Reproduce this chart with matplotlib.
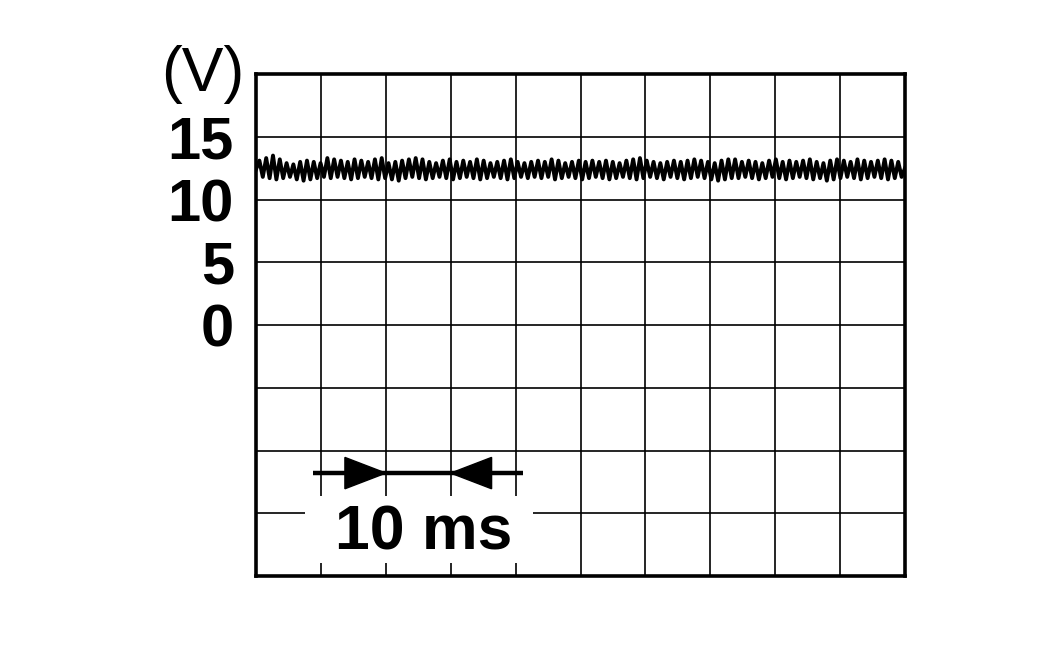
import numpy as np
import matplotlib
matplotlib.use("Agg")
import matplotlib.pyplot as plt
from matplotlib.patches import Rectangle

plt.rcParams['font.family'] = ['Liberation Sans', 'DejaVu Sans']

# ---- data ----
y_tick_values = [-20, -15, -10, -5, 0, 5, 10, 15, 20]
y_tick_labels = ['', '', '', '', '0', '5', '10', '15', '']
x_tick_values = [0, 10, 20, 30, 40, 50, 60, 70, 80, 90, 100]
unit_label = '(V)'
time_label = '10 ms'
time_marker_start = 20   # ms
time_marker_end = 30     # ms

# ripple peak / trough voltages (left to right)
peaks = [13.1, 13.3, 13.5, 13.2, 12.9, 12.8, 13.0, 13.1, 13.0, 12.9,
         13.3, 13.2, 13.1, 13.0, 13.2, 13.1, 13.0, 13.2, 13.3, 12.9,
         13.0, 13.1, 13.2, 13.3, 13.2, 13.0, 12.9, 13.1, 13.2, 13.0,
         13.1, 13.0, 13.2, 13.1, 12.9, 13.0, 13.1, 13.2, 13.0, 12.9,
         13.0, 13.1, 13.0, 13.2, 13.1, 12.9, 13.0, 13.1, 13.0, 13.1,
         13.0, 13.1, 13.0, 12.9, 13.1, 13.2, 13.3, 13.1, 13.0, 12.9,
         13.0, 13.1, 13.0, 13.1, 13.2, 13.1, 13.0, 12.9, 13.1, 13.2,
         13.2, 13.0, 13.1, 13.0, 12.9, 13.1, 13.2, 13.0, 13.1, 13.0,
         13.1, 13.2, 13.0, 12.9, 13.1, 13.2, 13.1, 13.0, 13.2, 13.1,
         13.0, 13.1, 13.2, 13.1, 13.0]
troughs = [11.8, 11.7, 11.6, 11.7, 11.8, 11.6, 11.5, 11.6, 11.7, 11.8,
           11.7, 11.8, 11.7, 11.6, 11.7, 11.8, 11.7, 11.6, 11.7, 11.6,
           11.5, 11.7, 11.8, 11.7, 11.6, 11.7, 11.8, 11.7, 11.6, 11.7,
           11.8, 11.7, 11.6, 11.7, 11.8, 11.7, 11.6, 11.7, 11.8, 11.7,
           11.8, 11.7, 11.8, 11.6, 11.7, 11.8, 11.7, 11.6, 11.7, 11.8,
           11.7, 11.6, 11.7, 11.8, 11.7, 11.6, 11.7, 11.8, 11.7, 11.6,
           11.8, 11.7, 11.6, 11.7, 11.8, 11.7, 11.6, 11.5, 11.6, 11.7,
           11.7, 11.8, 11.7, 11.6, 11.7, 11.8, 11.7, 11.6, 11.7, 11.8,
           11.7, 11.6, 11.7, 11.5, 11.6, 11.7, 11.8, 11.7, 11.6, 11.7,
           11.8, 11.7, 11.6, 11.7, 11.8]
start_voltage = 12.4
end_voltage = 12.5

# ---- build trace ----
wave = [start_voltage]
for p, t in zip(peaks, troughs):
    wave.extend([p, t])
wave.append(end_voltage)
wave = np.array(wave)
time = np.linspace(0, 100, len(wave))

# ---- figure ----
fig = plt.figure(figsize=(10.63, 6.61), dpi=100)
ax = fig.add_axes([256 / 1063, 1 - 576 / 661, 649 / 1063, 502 / 661])
ax.set_xlim(0, 100)
ax.set_ylim(-20, 20)

ax.set_xticks(x_tick_values)
ax.set_xticklabels([])
ax.set_yticks(y_tick_values)
ax.set_yticklabels(y_tick_labels, fontsize=43, fontweight='bold')
ax.tick_params(axis='both', length=0)
ax.tick_params(axis='y', pad=16)
ax.grid(True, color='black', linewidth=1.2)
ax.set_axisbelow(True)
for s in ax.spines.values():
    s.set_linewidth(2.6)
    s.set_color('black')

ax.plot(time, wave, color='black', linewidth=2.8, zorder=3)

# white box under time label
ax.add_patch(Rectangle((7.6, -19.0), 35.1, 5.4, facecolor='white',
                       edgecolor='none', zorder=2))
ax.text(25.9, -16.6, time_label, ha='center', va='center', fontsize=45,
        fontweight='bold', zorder=4)

# time scale marker
marker_y = -11.8
line_left = 8.8
line_right = 41.1
head_len = 6.3
head_half = 1.25
ax.plot([line_left, line_right], [marker_y, marker_y], color='black',
        linewidth=3.2, zorder=4, solid_capstyle='butt')
ax.fill([time_marker_start - head_len, time_marker_start, time_marker_start - head_len],
        [marker_y - head_half, marker_y, marker_y + head_half], color='black', zorder=5)
ax.fill([time_marker_end + head_len, time_marker_end, time_marker_end + head_len],
        [marker_y - head_half, marker_y, marker_y + head_half], color='black', zorder=5)

fig.text(203 / 1063, 1 - 74 / 661, unit_label, ha='center', va='center',
         fontsize=45)

fig.savefig('out.png', dpi=100, facecolor='white')
